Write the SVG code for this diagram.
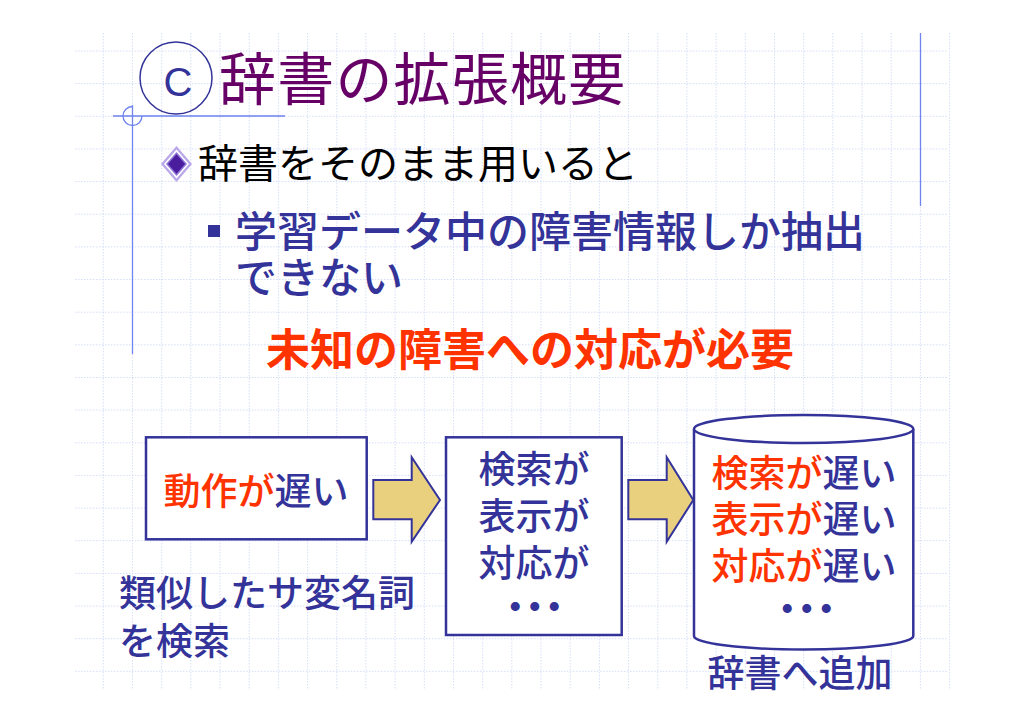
<svg xmlns="http://www.w3.org/2000/svg" width="1024" height="724" viewBox="0 0 1024 724">
<defs>
<style>
.grid{fill:none;stroke:#d6def8;stroke-width:1;stroke-dasharray:1.5 1.5}
.guide{fill:none;stroke:#6f84ee;stroke-width:1.3}
.t{font-family:"Noto Sans CJK JP","Noto Sans CJK SC",sans-serif;font-weight:500}
.reg{font-weight:400}
.navy{fill:#333399}
.red{fill:#ff3300}
.box{fill:#ffffff;stroke:#333399;stroke-width:2.5}
.arrow{fill:#e8d07e;stroke:#333399;stroke-width:2;stroke-linejoin:miter}
.dots{font-size:46px;font-weight:bold;letter-spacing:-3.5px}
</style>
</defs>
<rect width="1024" height="724" fill="#ffffff"/>
<g id="grid">
<path class="grid" d="M103.3,33V690M132.5,33V690M161.7,33V690M190.8,33V690M220,33V690M249.2,33V690M278.4,33V690M307.6,33V690M336.8,33V690M365.9,33V690M395.1,33V690M424.3,33V690M453.5,33V690M482.7,33V690M511.8,33V690M541,33V690M570.2,33V690M599.4,33V690M628.6,33V690M657.8,33V690M686.9,33V690M716.1,33V690M745.3,33V690M774.5,33V690M803.7,33V690M832.8,33V690M862,33V690M891.2,33V690M920.4,33V690M949.6,33V690"/>
<path class="grid" d="M75,51H948M75,83.6H948M75,116.3H948M75,149H948M75,181.6H948M75,214.2H948M75,246.9H948M75,279.5H948M75,312.2H948M75,344.8H948M75,377.5H948M75,410.1H948M75,442.8H948M75,475.4H948M75,508.1H948M75,540.7H948M75,573.4H948M75,606H948M75,638.7H948M75,671.3H948"/>
</g>
<g id="guides">
<path class="guide" d="M113,116H285M132.5,105V354M920.5,33V206"/>
<path class="guide" d="M132.5,106.5A9.5,9.5 0 1 0 142,116"/>
</g>
<g id="title">
<circle cx="176" cy="78" r="36" fill="none" stroke="#333399" stroke-width="1.5"/>
<text x="178" y="96" text-anchor="middle" font-family="Liberation Sans, Arial, sans-serif" font-size="40" class="navy">C</text>
<text x="219" y="100" class="t reg" font-size="57" letter-spacing="1.2" fill="#660066">辞書の拡張概要</text>
</g>
<g id="bullet1">
<polygon points="161,164 176.5,146 192,164 176.5,182" fill="#b9a7ea"/>
<polygon points="164,164 176.5,149.5 189,164 176.5,178.5" fill="#ffffff"/>
<polygon points="166,164 176.5,152 187,164 176.5,176" fill="#8e74d8"/>
<polygon points="168,164 176.5,154.3 185,164 176.5,173.7" fill="#4a1c9e"/>
<text x="198" y="177.5" class="t reg" font-size="40" fill="#000000">辞書をそのまま用いると</text>
</g>
<g id="bullet2">
<rect x="208" y="225" width="12" height="12" fill="#333399"/>
<text x="235" y="247" class="t navy" font-size="42">学習データ中の障害情報しか抽出</text>
<text x="235" y="293" class="t navy" font-size="42">できない</text>
</g>
<g id="need">
<text x="266" y="366" class="t red" font-size="44" style="font-weight:bold">未知の障害への対応が必要</text>
</g>
<g id="connectors">
<polygon class="arrow" points="373.3,480 411.7,480 411.7,457.3 440,500 411.7,541.7 411.7,519.3 373.3,519.3"/>
<polygon class="arrow" points="628.3,480 666.7,480 666.7,457.3 693.3,500 666.7,541.7 666.7,519.3 628.3,519.3"/>
</g>
<g id="node-slow">
<rect class="box" x="146" y="437.3" width="220.7" height="102"/>
<text x="256" y="505" text-anchor="middle" class="t" font-size="37"><tspan class="red">動作が</tspan><tspan class="navy">遅い</tspan></text>
</g>
<g id="label-similar">
<text x="119" y="607" class="t navy" font-size="37">類似したサ変名詞</text>
<text x="119" y="655" class="t navy" font-size="37">を検索</text>
</g>
<g id="node-search">
<rect class="box" x="446" y="437.3" width="175.7" height="197.7"/>
<text x="534" y="482.5" text-anchor="middle" class="t navy" font-size="37">検索が</text>
<text x="534" y="530" text-anchor="middle" class="t navy" font-size="37">表示が</text>
<text x="534" y="576.5" text-anchor="middle" class="t navy" font-size="37">対応が</text>
<text x="533" y="623" text-anchor="middle" class="t navy dots">･･･</text>
</g>
<g id="node-dict">
<path class="box" d="M694,429V636A109.65,13.5 0 0 0 913.3,636V429A109.65,14 0 0 0 694,429Z"/>
<path class="box" fill="none" d="M694,429A109.65,14 0 0 0 913.3,429"/>
<text x="804" y="486.5" text-anchor="middle" class="t" font-size="37"><tspan class="red">検索が</tspan><tspan class="navy">遅い</tspan></text>
<text x="804" y="533" text-anchor="middle" class="t" font-size="37"><tspan class="red">表示が</tspan><tspan class="navy">遅い</tspan></text>
<text x="804" y="580" text-anchor="middle" class="t" font-size="37"><tspan class="red">対応が</tspan><tspan class="navy">遅い</tspan></text>
<text x="805" y="625" text-anchor="middle" class="t navy dots">･･･</text>
<text x="800" y="687" text-anchor="middle" class="t navy" font-size="37">辞書へ追加</text>
</g>
</svg>
